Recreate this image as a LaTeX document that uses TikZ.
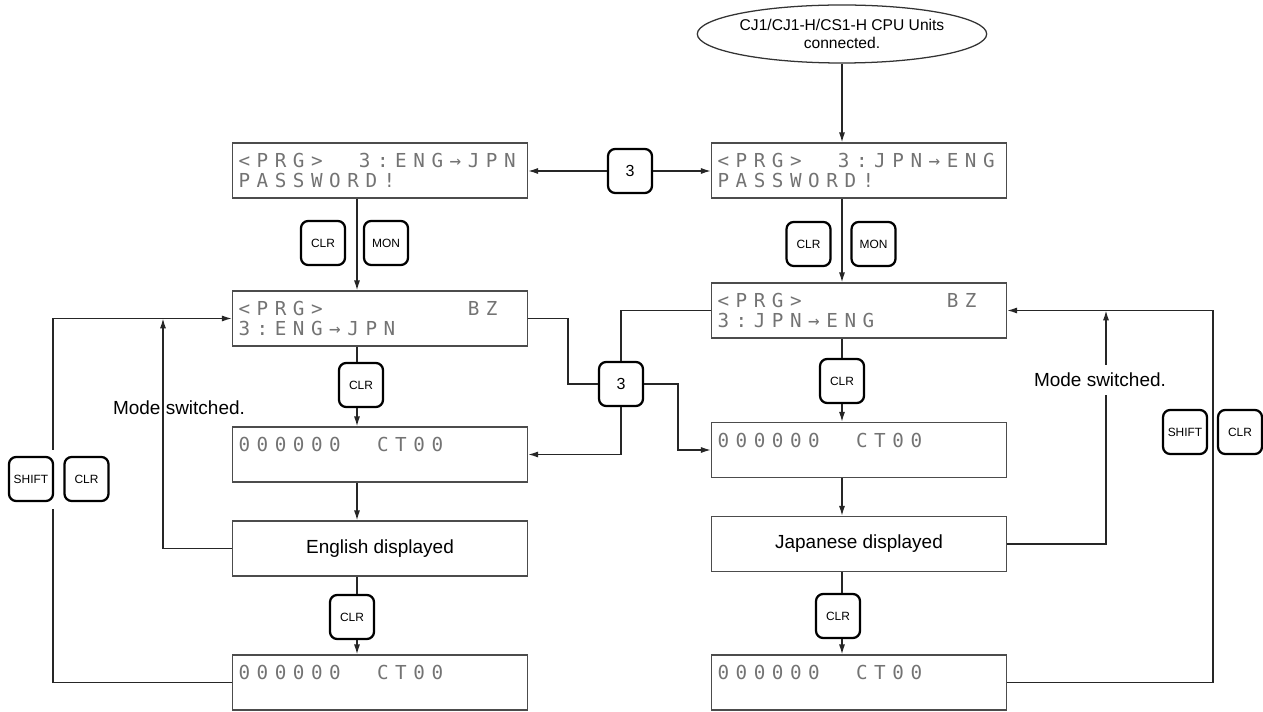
\documentclass[tikz,border=0pt]{standalone}
\usepackage{fontspec}
\setmainfont{Liberation Sans}
\newfontfamily\lcdfont[LetterSpace=34]{DejaVu Sans Mono}
\newcommand\lz{\hspace*{0.942em}}
\usetikzlibrary{arrows.meta, shapes.geometric}

\begin{document}
\begin{tikzpicture}

	% Stile für Anzeigen, Tasten und Linien
	\tikzset{
		linie/.style={draw=black!85, line width=0.9pt},
		pfeil/.style={linie, -{Latex[length=7pt,width=4.3pt]}},
		anzeige/.style={rectangle, draw=black!70, line width=1pt, minimum height=1.375cm,
			text width=7.075cm, inner xsep=0.15cm, align=left, text=black!55,
			font=\lcdfont\fontsize{13.7pt}{14.2pt}\selectfont},
		kasten/.style={rectangle, draw=black!70, line width=1pt, minimum width=7.375cm,
			minimum height=1.375cm, font=\fontsize{13.5pt}{16pt}\selectfont},
		taste/.style={rectangle, draw=black, line width=1.6pt, rounded corners=0.18cm,
			fill=white, minimum width=1.1cm, minimum height=1.1cm, inner sep=0pt,
			font=\fontsize{8.5pt}{10pt}\selectfont},
		zifftaste/.style={taste, font=\fontsize{11.4pt}{13pt}\selectfont},
		hinweis/.style={inner sep=1pt, font=\fontsize{13.5pt}{16pt}\selectfont}
	}

	\useasboundingbox (0,0) rectangle (31.575,17.775);

	% Startbedingung
	\node[ellipse, draw=black!80, line width=0.9pt, minimum width=6cm, minimum height=1.45cm,
		inner sep=0pt, align=center, font=\fontsize{11.1pt}{12.8pt}\selectfont]
		(cpu) at (21.05,16.925) {CJ1/CJ1-H/CS1-H CPU Units\\connected.};

	% Anzeigen links (ENG -> JPN)
	\node[anzeige] (pwL) at (9.5,13.5125) {<PRG>\lz\lz 3:ENG→JPN\\PASSWORD!};
	\node[anzeige] (bzL) at (9.5,9.8125) {<PRG>\lz\lz\lz\lz\lz\lz\lz\lz BZ\\3:ENG→JPN};
	\node[anzeige] (ctL) at (9.5,6.4125) {000000\lz\lz CT00\\\lz};
	\node[kasten] (engl) at (9.5,4.0625) {English displayed};
	\node[anzeige] (endL) at (9.5,0.7125) {000000\lz\lz CT00\\\lz};

	% Anzeigen rechts (JPN -> ENG)
	\node[anzeige] (pwR) at (21.475,13.5125) {<PRG>\lz\lz 3:JPN→ENG\\PASSWORD!};
	\node[anzeige] (bzR) at (21.475,10.0125) {<PRG>\lz\lz\lz\lz\lz\lz\lz\lz BZ\\3:JPN→ENG};
	\node[anzeige] (ctR) at (21.475,6.525) {000000\lz\lz CT00\\\lz};
	\node[kasten] (jap) at (21.475,4.175) {Japanese displayed};
	\node[anzeige] (endR) at (21.475,0.7125) {000000\lz\lz CT00\\\lz};

	% Tasten
	\node[zifftaste] (k3oben) at (15.75,13.5) {3};
	\node[zifftaste] (k3mitte) at (15.525,8.175) {3};
	\node[taste] (clrA) at (8.075,11.7) {CLR};
	\node[taste] (monA) at (9.65,11.7) {MON};
	\node[taste] (clrB) at (20.2125,11.675) {CLR};
	\node[taste] (monB) at (21.8375,11.675) {MON};
	\node[taste] (clrC) at (9.025,8.15) {CLR};
	\node[taste] (clrD) at (21.05,8.25) {CLR};
	\node[taste] (clrE) at (8.8,2.35) {CLR};
	\node[taste] (clrF) at (20.95,2.375) {CLR};
	\node[taste] (shiftL) at (0.775,5.8) {SHIFT};
	\node[taste] (clrG) at (2.1625,5.8) {CLR};
	\node[taste] (shiftR) at (29.625,6.975) {SHIFT};
	\node[taste] (clrH) at (31.0,6.975) {CLR};

	% Hilfspunkte für Leitungen
	\coordinate (colL) at (8.925,0);
	\coordinate (colR) at (21.05,0);
	\coordinate (innenL) at (4.075,0);
	\coordinate (innenR) at (27.65,0);
	\coordinate (aussenR) at (30.325,0);
	\coordinate (knickA) at (14.2,0);
	\coordinate (knickB) at (16.95,0);
	\coordinate (lueckeU) at (1.325,5.05);
	\coordinate (lueckeO) at (1.325,6.525);

	% CPU und Taste 3 oben
	\draw[pfeil] (cpu.south) -- (pwR.north -| cpu.south);
	\draw[pfeil] (k3oben.west) -- (k3oben.west -| pwL.east);
	\draw[pfeil] (k3oben.east) -- (k3oben.east -| pwR.west);

	% Spalte links
	\draw[pfeil] (pwL.south -| colL) -- (bzL.north -| colL);
	\draw[linie] (bzL.south -| colL) -- (clrC.north -| colL);
	\draw[pfeil] (clrC.south -| colL) -- (ctL.north -| colL);
	\draw[pfeil] (ctL.south -| colL) -- (engl.north -| colL);
	\draw[linie] (engl.south -| colL) -- (clrE.north -| colL);
	\draw[pfeil] (clrE.south -| colL) -- (endL.north -| colL);

	% Spalte rechts
	\draw[pfeil] (pwR.south -| colR) -- (bzR.north -| colR);
	\draw[linie] (bzR.south -| colR) -- (clrD.north -| colR);
	\draw[pfeil] (clrD.south -| colR) -- (ctR.north -| colR);
	\draw[pfeil] (ctR.south -| colR) -- (jap.north -| colR);
	\draw[linie] (jap.south -| colR) -- (clrF.north -| colR);
	\draw[pfeil] (clrF.south -| colR) -- (endR.north -| colR);

	% Taste 3 in der Mitte
	\draw[linie] (bzL.east) -| (knickA |- k3mitte.west) -- (k3mitte.west);
	\draw[linie] (bzR.west) -| (k3mitte.north);
	\draw[pfeil] (k3mitte.south) |- (ctL.east);
	\draw[pfeil] (k3mitte.east) -| (knickB |- ctR.west) -- (ctR.west);

	% Rückführungen links
	\draw[pfeil] (engl.west) -| (bzL.west -| innenL);
	\draw[linie] (endL.west) -| (lueckeU);
	\draw[pfeil] (lueckeO) |- (bzL.west);
	\node[hinweis] (modeL) at (4.475,7.575) {Mode switched.};

	% Rückführungen rechts
	\draw[pfeil] (jap.east) -| (bzR.east -| innenR);
	\draw[pfeil] (endR.east) -| (aussenR |- bzR.east) -- (bzR.east);
	\node[hinweis, fill=white, inner ysep=6pt] (modeR) at (27.5,8.275) {Mode switched.};

\end{tikzpicture}
\end{document}
